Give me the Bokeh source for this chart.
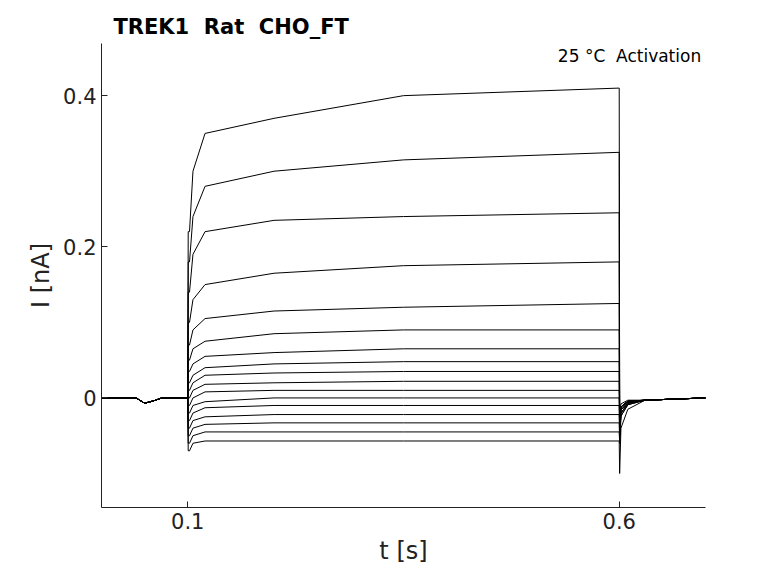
from bokeh.plotting import figure
from bokeh.models import Range1d, FixedTicker, Label
from bokeh.embed import file_html
from bokeh.resources import INLINE

pre_t = [0.0, 0.04, 0.05, 0.06, 0.07, 0.1]
pre_i = [0.0, 0.0, -0.007, -0.004, 0.0, 0.0]
knot_t = [0.1005, 0.102, 0.106, 0.12, 0.2, 0.35, 0.6]
traces = [
    [0.22, 0.30, 0.35, 0.37, 0.40, 0.41],
    [0.18, 0.24, 0.28, 0.30, 0.315, 0.325],
    [0.14, 0.19, 0.22, 0.235, 0.24, 0.245],
    [0.10, 0.13, 0.15, 0.165, 0.175, 0.18],
    [0.07, 0.09, 0.105, 0.115, 0.12, 0.125],
    [0.05, 0.065, 0.075, 0.085, 0.09, 0.09],
    [0.035, 0.045, 0.055, 0.06, 0.065, 0.065],
    [0.02, 0.03, 0.04, 0.045, 0.048, 0.048],
    [0.01, 0.02, 0.03, 0.033, 0.035, 0.035],
    [0.0, 0.01, 0.018, 0.02, 0.022, 0.022],
    [-0.01, 0.0, 0.008, 0.01, 0.01, 0.01],
    [-0.02, -0.01, -0.005, 0.0, 0.0, 0.0],
    [-0.03, -0.02, -0.013, -0.01, -0.01, -0.01],
    [-0.04, -0.03, -0.025, -0.022, -0.022, -0.022],
    [-0.05, -0.04, -0.035, -0.033, -0.033, -0.033],
    [-0.06, -0.05, -0.045, -0.045, -0.045, -0.045],
    [-0.07, -0.06, -0.057, -0.057, -0.057, -0.057],
]
tail_t = [0.6005, 0.602, 0.61, 0.63, 0.7]
tail_min = [-0.02, -0.03, -0.03, -0.03, -0.03, -0.03, -0.03, -0.03, -0.04,
            -0.04, -0.04, -0.05, -0.05, -0.05, -0.06, -0.06, -0.1]
x_ticks = [0.1, 0.6]
y_ticks = [0, 0.2, 0.4]

p = figure(width=760, height=567, output_backend="svg", toolbar_location=None,
           x_range=Range1d(0.0, 0.7), y_range=Range1d(-0.145, 0.469),
           min_border_left=101, min_border_right=55, min_border_top=43, min_border_bottom=54)
p.grid.visible = False
p.outline_line_color = None

for tr, tm in zip(traces, tail_min):
    xs = pre_t + knot_t + tail_t
    ys = pre_i + [tr[0]] + tr + [tm, tm * 0.4, tm * 0.15, -0.003, 0.0]
    p.line(xs, ys, line_color="black", line_width=1)

for ax in (p.xaxis[0], p.yaxis[0]):
    ax.major_label_text_font = "DejaVu Sans"
    ax.major_label_text_font_size = "21px"
    ax.major_label_text_color = "#222222"
    ax.axis_label_text_font = "DejaVu Sans"
    ax.axis_label_text_font_size = "24px"
    ax.axis_label_text_font_style = "normal"
    ax.axis_label_text_color = "#222222"
    ax.axis_line_color = "#222222"
    ax.major_tick_line_color = "#222222"
    ax.minor_tick_line_color = None
    ax.major_tick_in = 6
    ax.major_tick_out = 0
p.xaxis.ticker = FixedTicker(ticks=x_ticks)
p.yaxis.ticker = FixedTicker(ticks=y_ticks)
p.xaxis.major_label_overrides = {0.1: "0.1", 0.6: "0.6"}
p.yaxis.major_label_overrides = {0: "0", 0.2: "0.2", 0.4: "0.4"}
p.xaxis.axis_label = "t [s]"
p.yaxis.axis_label = "I [nA]"

p.title.text = "TREK1\u00a0\u00a0Rat\u00a0\u00a0CHO_FT"
p.title.text_font = "DejaVu Sans"
p.title.text_font_size = "21px"
p.title.text_font_style = "bold"
p.title.text_color = "black"
p.title.offset = 12

p.add_layout(Label(x=0.695, y=0.466, text="25 °C\u00a0\u00a0Activation", text_font="DejaVu Sans",
                   text_font_size="17px", text_color="black", text_align="right",
                   text_baseline="top"))
p.add_layout(Label(x=708, y=282, x_units="screen", y_units="screen",
                   text="BBP Channelpedia ID 29681 rep 1", angle=1.5708,
                   text_font="DejaVu Sans", text_font_size="12px", text_color="black",
                   text_align="center", text_baseline="middle"))

open("out.html", "w").write(file_html(p, INLINE))
